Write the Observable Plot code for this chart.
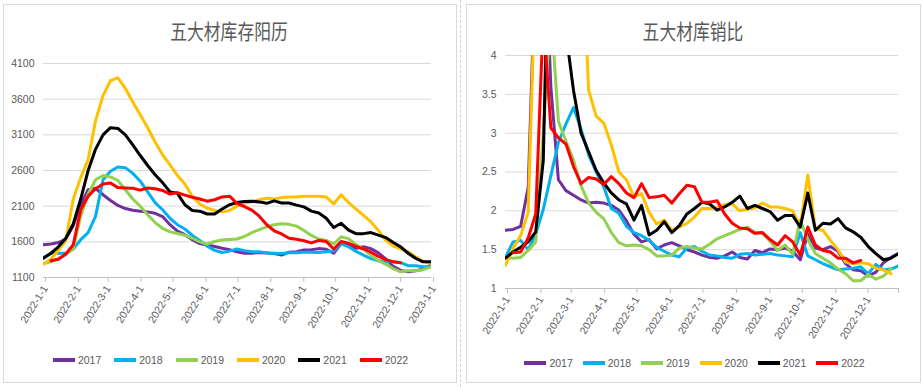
<!DOCTYPE html>
<html><head><meta charset="utf-8">
<script src="https://cdn.jsdelivr.net/npm/d3@7"></script>
<script src="https://cdn.jsdelivr.net/npm/@observablehq/plot@0.6"></script>
<style>
html,body{margin:0;padding:0;background:#fff;}
body{width:923px;height:387px;position:relative;overflow:hidden;font-family:"Liberation Sans",sans-serif;}
.panel{position:absolute;top:4px;height:379px;border:1px solid #d9d9d9;background:#fff;box-sizing:border-box;}
.sep{position:absolute;left:460px;top:0;height:387px;border-left:1px dashed #d0d0d0;}
.title{position:absolute;top:16px;font-family:"Noto Sans CJK SC",sans-serif;font-size:21px;line-height:28px;color:#595959;white-space:nowrap;transform:translateX(-50%) scaleX(0.8);}
.chart{position:absolute;top:0;}
.legend{position:absolute;display:flex;justify-content:center;align-items:center;font-size:10.5px;color:#595959;}
.item{display:flex;align-items:center;}
.sw{display:inline-block;width:22px;height:4px;margin-right:3px;}
</style>
</head><body>
<div class="panel" style="left:3px;width:454px;"></div>
<div class="panel" style="left:466px;width:455px;"></div>
<div class="sep"></div>
<div class="title" style="left:229px;">五大材库存阳历</div>
<div class="title" style="left:693px;">五大材库销比</div>
<div id="c1" class="chart" style="left:0px;"></div>
<div id="c2" class="chart" style="left:460px;"></div>
<div id="l1" class="legend" style="left:0;width:461px;top:353px;height:14px;gap:13px;"></div>
<div id="l2" class="legend" style="left:464px;width:461px;top:356px;height:14px;gap:10px;"></div>
<script>
// ---- series names & colours ----
const years = ["2017", "2018", "2019", "2020", "2021", "2022"];
const colors = ["#7030A0", "#00B0F0", "#92D050", "#FFC000", "#000000", "#FF0000"];

// ---- 五大材库存 (weekly, 万吨) ----
const inv2017 = [1560,1570,1590,1640,1830,2120,2330,2350,2260,2180,2110,2067,2044,2030,2020,2000,1955,1840,1750,1700,1630,1575,1555,1535,1510,1490,1460,1440,1440,1450,1445,1435,1415,1455,1460,1485,1490,1505,1495,1440,1575,1555,1510,1530,1505,1445,1360,1255,1200,1180,1195,1215,1270];
const inv2018 = [1380,1440,1440,1440,1500,1630,1730,1960,2470,2590,2650,2640,2560,2450,2300,2150,2050,1930,1840,1780,1690,1620,1540,1480,1450,1470,1500,1475,1460,1460,1445,1440,1437,1446,1446,1455,1455,1450,1460,1470,1575,1530,1465,1415,1365,1335,1320,1320,1310,1265,1265,1250,1250];
const inv2019 = [1296,1320,1365,1420,1500,1960,2270,2470,2530,2510,2460,2330,2200,2100,1980,1870,1790,1740,1717,1693,1650,1600,1570,1605,1625,1633,1640,1675,1730,1770,1810,1840,1855,1845,1820,1760,1690,1640,1620,1570,1670,1645,1560,1500,1410,1340,1285,1225,1180,1195,1195,1210,1245];
const inv2020 = [1290,1360,1480,1620,2200,2500,2750,3300,3650,3860,3900,3750,3560,3380,3200,3000,2820,2680,2530,2410,2240,2130,2070,2040,2020,2040,2100,2140,2160,2190,2210,2200,2220,2230,2230,2240,2240,2240,2230,2130,2260,2150,2060,1970,1880,1760,1620,1540,1500,1460,1390,1330,1300];
const inv2021 = [1370,1440,1530,1650,1850,2200,2600,2900,3100,3200,3190,3100,2960,2810,2670,2540,2430,2300,2280,2120,2040,2030,1990,1990,2060,2120,2150,2165,2170,2160,2140,2175,2145,2145,2115,2090,2030,2005,1930,1800,1860,1765,1715,1715,1730,1695,1660,1590,1530,1440,1370,1320,1320];
const inv2022 = [null,1335,1357,1430,1560,2050,2240,2345,2410,2425,2360,2355,2350,2325,2355,2345,2320,2270,2290,2255,2225,2200,2170,2190,2230,2240,2140,2095,2045,1960,1840,1755,1710,1650,1635,1615,1585,1620,1605,1500,1605,1580,1535,1500,1455,1395,1350,1320,1305];

// ---- 五大材库销比 (weekly) ----
const ratio2017 = [1.75,1.76,1.80,2.30,5.3,6.0,3.6,2.40,2.26,2.20,2.14,2.10,2.11,2.10,2.07,2.01,1.87,1.70,1.60,1.63,1.51,1.56,1.59,1.55,1.50,1.47,1.43,1.40,1.39,1.42,1.47,1.40,1.38,1.49,1.46,1.51,1.50,1.52,1.48,1.37,1.70,1.52,1.50,1.54,1.48,1.32,1.24,1.23,1.16,1.21,1.33,1.40,1.45];
const ratio2018 = [1.40,1.60,1.62,1.50,1.70,2.02,2.45,2.88,3.12,3.33,3.05,2.72,2.50,2.31,2.03,1.97,1.80,1.72,1.68,1.62,1.53,1.48,1.43,1.41,1.52,1.54,1.48,1.43,1.42,1.40,1.39,1.44,1.45,1.43,1.44,1.45,1.43,1.42,1.41,1.72,1.42,1.37,1.32,1.28,1.24,1.25,1.26,1.28,1.19,1.31,1.24,1.25,1.29];
const ratio2019 = [1.40,1.39,1.40,1.49,1.60,3.0,4.6,3.15,2.90,2.65,2.32,2.10,1.98,1.90,1.72,1.59,1.55,1.56,1.55,1.50,1.42,1.42,1.43,1.52,1.54,1.52,1.51,1.57,1.64,1.68,1.72,1.76,1.79,1.72,1.71,1.61,1.49,1.56,1.44,1.88,1.63,1.45,1.39,1.33,1.25,1.19,1.10,1.10,1.18,1.12,1.16,1.25];
const ratio2020 = [1.30,1.52,1.68,1.98,5.2,7,9,10,9,7.5,5.8,3.55,3.22,3.13,2.85,2.50,2.40,2.18,2.22,1.98,1.83,1.88,1.75,1.79,1.84,1.92,2.03,2.03,2.04,2.08,2.09,2.00,2.02,2.04,2.10,2.05,2.05,2.03,2.00,1.80,2.46,1.77,1.75,1.62,1.50,1.34,1.32,1.33,1.32,1.26,1.24,1.19];
const ratio2021 = [1.39,1.47,1.53,1.60,1.73,2.65,7.0,6.0,4.29,3.55,3.0,2.76,2.52,2.36,2.23,2.14,2.09,1.88,2.07,1.69,1.75,1.86,1.72,1.81,1.96,2.03,2.11,2.09,2.01,2.05,2.11,2.19,2.03,2.07,2.03,1.99,1.88,1.94,1.94,1.79,2.23,1.75,1.84,1.83,1.90,1.78,1.73,1.66,1.54,1.45,1.37,1.39,1.45];
const ratio2022 = [null,1.46,1.47,1.65,1.96,4.5,3.07,2.94,2.86,2.57,2.35,2.43,2.41,2.34,2.44,2.35,2.23,2.17,2.35,2.17,2.18,2.20,2.10,2.22,2.33,2.31,2.11,2.11,2.13,1.96,1.84,1.78,1.77,1.71,1.72,1.63,1.56,1.68,1.60,1.43,1.79,1.56,1.49,1.47,1.39,1.39,1.33,1.36];

// ---- axis ticks ----
const invTicks = [1100, 1600, 2100, 2600, 3100, 3600, 4100];
const ratioTicks = [1, 1.5, 2, 2.5, 3, 3.5, 4];
const monthsLeft = d3.range(13).map(m => new Date(Date.UTC(2022, m, 1)));
const monthsRight = d3.range(12).map(m => new Date(Date.UTC(2022, m, 1)));

const weekDate = i => new Date(Date.UTC(2022, 0, 1 + 7 * i));
function rows(arrays) {
  const out = [];
  arrays.forEach((arr, k) => arr.forEach((v, i) => {
    if (v != null) out.push({date: weekDate(i), year: years[k], value: v});
  }));
  return out;
}
const fmtDate = d => `${d.getUTCFullYear()}-${d.getUTCMonth() + 1}-${d.getUTCDate()}`;

function chart({data, width, height, mL, mR, mT, mB, xDomain, yDomain, yTicks, xTicks, extraTick}) {
  return Plot.plot({
    width, height,
    marginLeft: mL, marginRight: mR, marginTop: mT, marginBottom: mB,
    style: {fontFamily: "'Liberation Sans', sans-serif", fontSize: "10.5px", color: "#595959", background: "transparent", overflow: "visible"},
    x: {type: "utc", domain: xDomain, label: null},
    y: {domain: yDomain, label: null},
    color: {domain: years, range: colors},
    marks: [
      Plot.ruleY(yTicks.slice(1), {stroke: "#d9d9d9", strokeWidth: 1}),
      Plot.ruleY([yDomain[0]], {stroke: "#bfbfbf", strokeWidth: 1}),
      Plot.axisY({ticks: yTicks, tickSize: 0, tickPadding: 9, tickFormat: d => String(d), fill: "#595959"}),
      Plot.axisX({ticks: xTicks, tickSize: 5, stroke: "#bfbfbf", tickFormat: fmtDate, tickRotate: -58, textAnchor: "end", lineAnchor: "middle", tickPadding: 4, fill: "#595959", dx: 2}),
      ...(extraTick ? [Plot.axisX({ticks: [extraTick], tickSize: 5, stroke: "#bfbfbf", tickFormat: () => ""})] : []),
      Plot.line(data, {x: "date", y: "value", z: "year", stroke: "year", strokeWidth: 3, clip: true, strokeLinejoin: "round", strokeLinecap: "round"})
    ]
  });
}

document.getElementById("c1").append(chart({
  data: rows([inv2017, inv2018, inv2019, inv2020, inv2021, inv2022]),
  width: 455, height: 345, mL: 43, mR: 24, mT: 63, mB: 68,
  xDomain: [new Date(Date.UTC(2022, 0, 1)), new Date(Date.UTC(2023, 0, 1))],
  yDomain: [1100, 4100], yTicks: invTicks, xTicks: monthsLeft
}));
document.getElementById("c2").append(chart({
  data: rows([ratio2017, ratio2018, ratio2019, ratio2020, ratio2021, ratio2022]),
  width: 463, height: 345, mL: 45, mR: 25, mT: 55, mB: 57,
  xDomain: [new Date(Date.UTC(2022, 0, 1)), new Date(Date.UTC(2022, 11, 31))],
  yDomain: [1, 4], yTicks: ratioTicks, xTicks: monthsRight,
  extraTick: new Date(Date.UTC(2022, 11, 31))
}));

for (const id of ["l1", "l2"]) {
  const el = document.getElementById(id);
  years.forEach((y, i) => {
    const it = document.createElement("div");
    it.className = "item";
    it.innerHTML = `<span class="sw" style="background:${colors[i]}"></span><span>${y}</span>`;
    el.append(it);
  });
}
</script>
</body></html>
